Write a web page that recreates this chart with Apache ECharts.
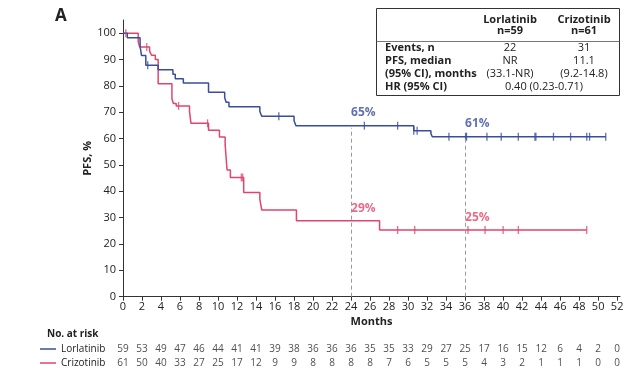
<!DOCTYPE html>
<html><head><meta charset="utf-8">
<script src="https://cdn.jsdelivr.net/npm/echarts@6/dist/echarts.min.js"></script>
<style>html,body{margin:0;padding:0;background:#fff}#c{width:640px;height:379px}</style>
</head><body><div id="c"></div>
<script>
const xTicks = [0,2,4,6,8,10,12,14,16,18,20,22,24,26,28,30,32,34,36,38,40,42,44,46,48,50,52];
const yTicks = [0,10,20,30,40,50,60,70,80,90,100];

const lorlatinibSteps = [[0,100],[0.45,98.3],[1.8,94.9],[1.95,91.5],[2.4,87.8],[3.7,86.1],[5.25,84.4],[5.5,82.7],[6.35,81.1],[9.0,77.6],[10.7,75.6],[10.85,73.8],[11.15,72.1],[14.4,70.3],[14.6,68.5],[18.0,66.8],[18.2,64.9],[30.6,63.0],[32.4,61.9],[32.55,60.7]];
const lorlatinibCensor = [2.6,16.4,25.4,28.9,30.6,30.95,34.3,36.05,36.15,38.3,39.8,41.6,43.35,43.45,45.3,47.1,48.8,49.1,50.8];
const lorlatinibEnd = 50.8;

const crizotinibSteps = [[0,100],[1.6,96.7],[1.75,94.8],[2.8,93.2],[3.0,91.6],[3.4,90.0],[3.7,80.8],[5.15,75.1],[5.3,73.3],[5.6,72.4],[7.0,70.2],[7.15,65.8],[9.0,63.2],[10.15,60.6],[10.75,57.7],[10.85,52.8],[10.95,48.1],[11.3,45.2],[12.7,39.5],[14.4,36.9],[14.6,32.9],[18.25,28.8],[27.0,25.3]];
const crizotinibCensor = [0.3,2.5,5.85,8.9,12.45,12.6,28.9,30.7,36.3,38.1,40.0,41.6,48.8];
const crizotinibEnd = 48.8;

const riskTimes = xTicks;
const lorlatinibAtRisk = [59,53,49,47,46,44,41,41,39,38,36,36,36,35,35,33,29,27,25,17,16,15,12,6,4,2,0];
const crizotinibAtRisk = [61,50,40,33,27,25,17,12,9,9,8,8,8,8,7,6,5,5,5,4,3,2,1,1,1,0,0];

const landmarkMonths = [24,36];
const lorlatinibLandmarkText = ['65%','61%'];
const crizotinibLandmarkText = ['29%','25%'];

const BLUE = '#3a4c9e', RED = '#e0466c';
const FONT = 'Open Sans';

function valueAt(steps, t){ let v = steps[0][1]; for (const s of steps){ if (s[0] <= t) v = s[1]; } return v; }
function curve(steps, end){ return steps.concat([[end, steps[steps.length-1][1]]]); }

const chart = echarts.init(document.getElementById('c'), null, {renderer:'canvas'});
const tstyle = {fontFamily: FONT, fontSize: 11, color: '#222'};

const option = {
  animation: false,
  textStyle: {fontFamily: FONT},
  grid: [
    {left: 123, top: 20, width: 497, height: 276.7},
    {left: 123, top: 342, width: 497, height: 28}
  ],
  xAxis: [{
    type: 'value', min: 0, max: 52.3, gridIndex: 0,
    axisLine: {lineStyle: {color: '#333', width: 1}},
    axisTick: {show: true, length: 4, customValues: xTicks, lineStyle: {color: '#333'}},
    axisLabel: {customValues: xTicks, margin: 5, ...tstyle},
    splitLine: {show: false},
    name: 'Months', nameLocation: 'middle', nameGap: 20, nameMoveOverlap: false,
    nameTextStyle: {fontFamily: FONT, fontSize: 11, fontWeight: 'bold', color: '#222'}
  }, {
    type: 'value', min: 0, max: 52.3, gridIndex: 1, show: false
  }],
  yAxis: [{
    type: 'value', min: 0, max: 105, gridIndex: 0,
    axisLine: {show: true, lineStyle: {color: '#333', width: 1}},
    axisTick: {show: true, length: 4, customValues: yTicks, lineStyle: {color: '#333'}},
    axisLabel: {customValues: yTicks, margin: 7, ...tstyle},
    splitLine: {show: false},
    name: 'PFS, %', nameLocation: 'middle', nameGap: 30, nameMoveOverlap: false,
    nameTextStyle: {fontFamily: FONT, fontSize: 11, fontWeight: 'bold', color: '#222'}
  }, {
    type: 'category', gridIndex: 1, data: ['Crizotinib','Lorlatinib'], show: false
  }],
  series: [
    {
      type: 'line', name: 'Lorlatinib', step: 'end', data: curve(lorlatinibSteps, lorlatinibEnd),
      symbol: 'none', lineStyle: {color: BLUE, width: 1.5}, z: 3,
      markLine: {
        silent: true, symbol: 'none', label: {show: false},
        lineStyle: {color: '#9a9a9a', type: [4,3], width: 1},
        data: landmarkMonths.map(m => [{coord: [m, 0]}, {coord: [m, valueAt(lorlatinibSteps, m) - 0.8]}])
      }
    },
    {
      type: 'line', name: 'Crizotinib', step: 'end', data: curve(crizotinibSteps, crizotinibEnd),
      symbol: 'none', lineStyle: {color: RED, width: 1.5}, z: 2
    },
    {
      type: 'scatter', data: lorlatinibCensor.map(t => [t, valueAt(lorlatinibSteps, t)]),
      symbol: 'rect', symbolSize: [1.3, 8], itemStyle: {color: BLUE}, z: 4
    },
    {
      type: 'scatter', data: crizotinibCensor.map(t => [t, valueAt(crizotinibSteps, t)]),
      symbol: 'rect', symbolSize: [1.3, 8], itemStyle: {color: RED}, z: 4
    },
    {
      type: 'scatter', symbolSize: 0,
      data: landmarkMonths.map((m, i) => ({value: [m, valueAt(lorlatinibSteps, m)], txt: lorlatinibLandmarkText[i]})),
      label: {show: true, position: [0, -13], align: 'left', verticalAlign: 'middle',
        formatter: p => p.data.txt, color: BLUE, fontFamily: FONT, fontSize: 12, fontWeight: 'bold'}
    },
    {
      type: 'scatter', symbolSize: 0,
      data: landmarkMonths.map((m, i) => ({value: [m, valueAt(crizotinibSteps, m)], txt: crizotinibLandmarkText[i]})),
      label: {show: true, position: [0, -12], align: 'left', verticalAlign: 'middle',
        formatter: p => p.data.txt, color: RED, fontFamily: FONT, fontSize: 12, fontWeight: 'bold'}
    },
    {
      type: 'scatter', xAxisIndex: 1, yAxisIndex: 1, symbolSize: 0,
      data: riskTimes.map((t, i) => [t, 'Lorlatinib', lorlatinibAtRisk[i]]),
      label: {show: true, position: 'inside', formatter: p => String(p.value[2]), fontFamily: FONT, fontSize: 10, color: '#222'}
    },
    {
      type: 'scatter', xAxisIndex: 1, yAxisIndex: 1, symbolSize: 0,
      data: riskTimes.map((t, i) => [t, 'Crizotinib', crizotinibAtRisk[i]]),
      label: {show: true, position: 'inside', formatter: p => String(p.value[2]), fontFamily: FONT, fontSize: 10, color: '#222'}
    }
  ],
  graphic: [
    {type: 'text', left: 55, top: 8, style: {text: 'A', font: 'bold 17px "Open Sans"', fill: '#222'}},
    {type: 'rect', shape: {x: 376.5, y: 8.5, width: 243, height: 87}, style: {fill: '#fff', stroke: '#333', lineWidth: 1}, z: 10},
    {type: 'line', shape: {x1: 376.5, y1: 41.5, x2: 619.5, y2: 41.5}, style: {stroke: '#555', lineWidth: 0.8}, z: 11},
    {type: 'text', x: 510, y: 20, z: 11, style: {text: 'Lorlatinib', font: 'bold 11px "Open Sans"', fill: '#222', align: 'center', verticalAlign: 'middle'}},
    {type: 'text', x: 510, y: 31, z: 11, style: {text: 'n=59', font: 'bold 11px "Open Sans"', fill: '#222', align: 'center', verticalAlign: 'middle'}},
    {type: 'text', x: 584, y: 20, z: 11, style: {text: 'Crizotinib', font: 'bold 11px "Open Sans"', fill: '#222', align: 'center', verticalAlign: 'middle'}},
    {type: 'text', x: 584, y: 31, z: 11, style: {text: 'n=61', font: 'bold 11px "Open Sans"', fill: '#222', align: 'center', verticalAlign: 'middle'}},
    {type: 'text', x: 385, y: 48, z: 11, style: {text: 'Events, n', font: 'bold 11px "Open Sans"', fill: '#222', verticalAlign: 'middle'}},
    {type: 'text', x: 385, y: 60.5, z: 11, style: {text: 'PFS, median', font: 'bold 11px "Open Sans"', fill: '#222', verticalAlign: 'middle'}},
    {type: 'text', x: 385, y: 74, z: 11, style: {text: '(95% CI), months', font: 'bold 11px "Open Sans"', fill: '#222', verticalAlign: 'middle'}},
    {type: 'text', x: 385, y: 86.5, z: 11, style: {text: 'HR (95% CI)', font: 'bold 11px "Open Sans"', fill: '#222', verticalAlign: 'middle'}},
    {type: 'text', x: 510, y: 48, z: 11, style: {text: '22', font: '11px "Open Sans"', fill: '#222', align: 'center', verticalAlign: 'middle'}},
    {type: 'text', x: 584, y: 48, z: 11, style: {text: '31', font: '11px "Open Sans"', fill: '#222', align: 'center', verticalAlign: 'middle'}},
    {type: 'text', x: 510, y: 60.5, z: 11, style: {text: 'NR', font: '11px "Open Sans"', fill: '#222', align: 'center', verticalAlign: 'middle'}},
    {type: 'text', x: 584, y: 60.5, z: 11, style: {text: '11.1', font: '11px "Open Sans"', fill: '#222', align: 'center', verticalAlign: 'middle'}},
    {type: 'text', x: 510, y: 74, z: 11, style: {text: '(33.1-NR)', font: '11px "Open Sans"', fill: '#222', align: 'center', verticalAlign: 'middle'}},
    {type: 'text', x: 584, y: 74, z: 11, style: {text: '(9.2-14.8)', font: '11px "Open Sans"', fill: '#222', align: 'center', verticalAlign: 'middle'}},
    {type: 'text', x: 544, y: 86.5, z: 11, style: {text: '0.40 (0.23-0.71)', font: '11px "Open Sans"', fill: '#222', align: 'center', verticalAlign: 'middle'}},
    {type: 'text', x: 47, y: 334, style: {text: 'No. at risk', font: 'bold 10px "Open Sans"', fill: '#222', verticalAlign: 'middle'}},
    {type: 'line', shape: {x1: 40, y1: 349, x2: 56, y2: 349}, style: {stroke: BLUE, lineWidth: 1.5}},
    {type: 'text', x: 61, y: 349, style: {text: 'Lorlatinib', font: '10px "Open Sans"', fill: '#222', verticalAlign: 'middle'}},
    {type: 'line', shape: {x1: 40, y1: 363, x2: 56, y2: 363}, style: {stroke: RED, lineWidth: 1.5}},
    {type: 'text', x: 61, y: 363, style: {text: 'Crizotinib', font: '10px "Open Sans"', fill: '#222', verticalAlign: 'middle'}}
  ]
};
chart.setOption(option);
</script>
</body></html>
